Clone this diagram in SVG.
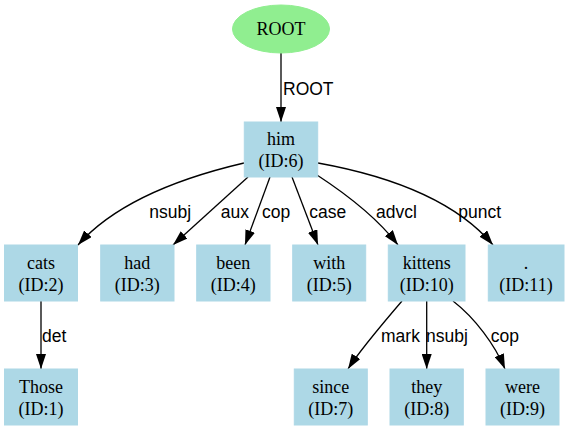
<svg xmlns="http://www.w3.org/2000/svg" width="570" height="430" viewBox="0 0 570 430">
<defs>
<style>
.box{fill:#add8e6;stroke:#add8e6;stroke-width:1}
.ell{fill:#90ee90;stroke:#90ee90;stroke-width:1}
.nt{font-family:"Liberation Serif","Times New Roman",serif;font-size:18px;fill:#000;text-anchor:middle}
.el{font-family:"Liberation Sans",Arial,sans-serif;font-size:17.5px;fill:#000}
.edge{fill:none;stroke:#000;stroke-width:1.3;marker-end:url(#arr)}
</style>
<marker id="arr" markerUnits="userSpaceOnUse" markerWidth="15" markerHeight="10" viewBox="0 0 15 10" refX="15" refY="5" orient="auto">
<path d="M0,0 L15,5 L0,10 z" fill="#000"/>
</marker>
</defs>
<rect width="570" height="430" fill="#fff"/>
<g id="edges">
<path class="edge" d="M281,53 L281,122"/>
<path class="edge" d="M244,163 C180,178 115,203 78,245"/>
<path class="edge" d="M248,177 L173,245"/>
<path class="edge" d="M270,177 L245,245"/>
<path class="edge" d="M292,177 L318,245"/>
<path class="edge" d="M317,175 C340,190 375,215 398,245"/>
<path class="edge" d="M318,163 C390,176 455,200 493,245"/>
<path class="edge" d="M41,301 L41,369"/>
<path class="edge" d="M402,301 C390,315 360,350 348,369"/>
<path class="edge" d="M426.7,301 L426.7,369"/>
<path class="edge" d="M453,301 C475,318 495,345 505,369"/>
<text class="el" x="283" y="95">ROOT</text>
<text class="el" x="149.3" y="218">nsubj</text>
<text class="el" x="220.7" y="218">aux</text>
<text class="el" x="262" y="218">cop</text>
<text class="el" x="309.3" y="218">case</text>
<text class="el" x="376" y="218">advcl</text>
<text class="el" x="458.3" y="218">punct</text>
<text class="el" x="42" y="341.5">det</text>
<text class="el" x="381" y="341.5">mark</text>
<text class="el" x="426" y="341.5">nsubj</text>
<text class="el" x="490.7" y="341.5">cop</text>
</g>
<g id="node-root"><ellipse class="ell" cx="281" cy="29" rx="48.5" ry="24"/><text class="nt" x="281" y="35">ROOT</text></g>
<g id="node-6"><rect class="box" x="244.3" y="122" width="73.4" height="55"/><text class="nt" x="281" y="145">him</text><text class="nt" x="281" y="167">(ID:6)</text></g>
<g id="node-2"><rect class="box" x="4.5" y="245" width="73" height="56"/><text class="nt" x="41" y="268.5">cats</text><text class="nt" x="41" y="291">(ID:2)</text></g>
<g id="node-3"><rect class="box" x="100.7" y="245" width="73.3" height="56"/><text class="nt" x="137.3" y="268.5">had</text><text class="nt" x="137.3" y="291">(ID:3)</text></g>
<g id="node-4"><rect class="box" x="196.7" y="245" width="73.3" height="56"/><text class="nt" x="233.3" y="268.5">been</text><text class="nt" x="233.3" y="291">(ID:4)</text></g>
<g id="node-5"><rect class="box" x="292.7" y="245" width="73" height="56"/><text class="nt" x="329.2" y="268.5">with</text><text class="nt" x="329.2" y="291">(ID:5)</text></g>
<g id="node-10"><rect class="box" x="388.3" y="245" width="76.7" height="56"/><text class="nt" x="426.7" y="268.5">kittens</text><text class="nt" x="426.7" y="291">(ID:10)</text></g>
<g id="node-11"><rect class="box" x="488.3" y="245" width="75.7" height="56"/><text class="nt" x="526" y="268.5">.</text><text class="nt" x="526" y="291">(ID:11)</text></g>
<g id="node-1"><rect class="box" x="4.5" y="369" width="73" height="56"/><text class="nt" x="41" y="392.5">Those</text><text class="nt" x="41" y="415">(ID:1)</text></g>
<g id="node-7"><rect class="box" x="294.3" y="369" width="73" height="56"/><text class="nt" x="330.8" y="392.5">since</text><text class="nt" x="330.8" y="415">(ID:7)</text></g>
<g id="node-8"><rect class="box" x="390" y="369" width="73.3" height="56"/><text class="nt" x="426.7" y="392.5">they</text><text class="nt" x="426.7" y="415">(ID:8)</text></g>
<g id="node-9"><rect class="box" x="486" y="369" width="73" height="56"/><text class="nt" x="522.5" y="392.5">were</text><text class="nt" x="522.5" y="415">(ID:9)</text></g>
</svg>
